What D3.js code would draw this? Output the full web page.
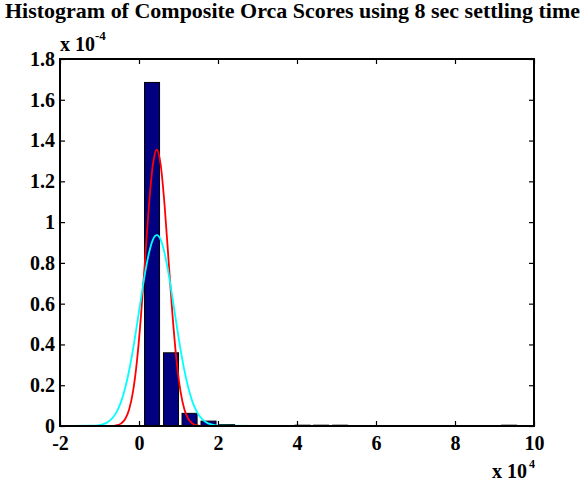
<!DOCTYPE html>
<html>
<head>
<meta charset="utf-8">
<script src="https://cdn.jsdelivr.net/npm/d3@7"></script>
<style>
  body { margin: 0; background: #fff; }
  svg text { font-family: "Liberation Serif", "Times New Roman", serif; font-weight: bold; fill: #000; }
</style>
</head>
<body>
<div id="chart"></div>
<script>
"use strict";

/*
    histogram of composite orca scores + two fitted curves
    x values in units of 1e4, y values in units of 1e-4
*/

const binCenters = [0.33, 0.81, 1.28, 1.76, 2.23, 2.71, 3.19, 3.66, 4.14, 4.61,
                    5.09, 5.57, 6.04, 6.52, 6.99, 7.47, 7.95, 8.42, 8.90, 9.37]
const binValues  = [1.685, 0.359, 0.062, 0.024, 0.007, 0, 0, 0, 0.004, 0.004,
                    0.004, 0, 0, 0, 0, 0, 0, 0, 0, 0.004]
const binWidth = 0.476

// red fit
const redX = [-2, -0.65, -0.55, -0.45, -0.35, -0.25, -0.15, -0.05, 0.05, 0.15, 0.25, 0.35, 0.45,
              0.55, 0.65, 0.75, 0.85, 0.95, 1.05, 1.15, 1.25, 1.35, 1.45, 1.55, 4.1]
const redY = [0, 0.001, 0.004, 0.013, 0.034, 0.081, 0.171, 0.322, 0.540, 0.808, 1.077, 1.279, 1.355,
              1.279, 1.077, 0.808, 0.540, 0.322, 0.171, 0.081, 0.034, 0.013, 0.004, 0.001, 0]

// cyan fit
const cyanX = [-2, -1.15, -1.05, -0.95, -0.85, -0.75, -0.65, -0.55, -0.45, -0.35, -0.25, -0.15, -0.05,
               0.05, 0.15, 0.25, 0.35, 0.45, 0.55, 0.65, 0.75, 0.85, 0.95, 1.05, 1.15, 1.25, 1.35,
               1.45, 1.55, 1.65, 1.75, 1.85, 1.95, 2.05, 4.1]
const cyanY = [0, 0.0015, 0.003, 0.007, 0.013, 0.025, 0.044, 0.075, 0.121, 0.186, 0.272, 0.377, 0.498,
               0.625, 0.746, 0.846, 0.913, 0.936, 0.913, 0.846, 0.746, 0.625, 0.498, 0.377, 0.272,
               0.186, 0.121, 0.075, 0.044, 0.025, 0.013, 0.007, 0.003, 0.0015, 0]

const xTicks = [-2, 0, 2, 4, 6, 8, 10]
const yTicks = [0, 0.2, 0.4, 0.6, 0.8, 1, 1.2, 1.4, 1.6, 1.8]

const titleText = "Histogram of Composite Orca Scores using 8 sec settling time"

const W = 587, H = 485
const padL = 60, padR = 534, padT = 59, padB = 426
const tickLen = 5
const labelSize = "20px"

const svg = d3.select("#chart").append("svg")
    .attr("width", W)
    .attr("height", H)

const x = d3.scaleLinear().domain([-2, 10]).range([padL, padR])
const y = d3.scaleLinear().domain([0, 1.8]).range([padB, padT])

// --- title ---
svg.append("text")
    .attr("x", 5)
    .attr("y", 18)
    .attr("textLength", 575)
    .attr("lengthAdjust", "spacingAndGlyphs")
    .style("font-size", "21px")
    .text(titleText)

// --- bars ---
const plot = svg.append("g")
plot.selectAll("rect.bar")
    .data(binCenters.map((c, i) => ({c: c, v: binValues[i]})))
    .enter().append("rect")
    .attr("class", "bar")
    .attr("x", d => x(d.c - binWidth * 0.4))
    .attr("width", d => x(d.c + binWidth * 0.4) - x(d.c - binWidth * 0.4))
    .attr("y", d => y(d.v))
    .attr("height", d => y(0) - y(d.v))
    .style("fill", "#000080")
    .style("stroke", "#000")
    .style("stroke-width", 1)

// --- curves ---
const line = d3.line()
    .x(d => x(d[0]))
    .y(d => y(d[1]))
    .curve(d3.curveMonotoneX)

plot.append("path")
    .datum(d3.zip(redX, redY))
    .attr("d", line)
    .style("fill", "none")
    .style("stroke", "#ff0000")
    .style("stroke-width", 1.8)

plot.append("path")
    .datum(d3.zip(cyanX, cyanY))
    .attr("d", line)
    .style("fill", "none")
    .style("stroke", "#00ffff")
    .style("stroke-width", 1.8)

// --- axes (matlab style box, inward ticks) ---
const xAxisB = d3.axisBottom(x).tickValues(xTicks).tickSizeInner(-tickLen).tickSizeOuter(0).tickPadding(10)
    .tickFormat(d => String(d))
const xAxisT = d3.axisTop(x).tickValues(xTicks).tickSizeInner(-tickLen).tickSizeOuter(0).tickFormat("")
const yAxisL = d3.axisLeft(y).tickValues(yTicks).tickSizeInner(-tickLen).tickSizeOuter(0).tickPadding(5)
    .tickFormat(d => String(+d.toFixed(1)))
const yAxisR = d3.axisRight(y).tickValues(yTicks).tickSizeInner(-tickLen).tickSizeOuter(0).tickFormat("")

function styleAxis (g) {
    g.select(".domain").remove()
    g.selectAll("line").style("stroke", "#000").style("stroke-width", 1.2)
    g.selectAll("text").style("font-size", labelSize).attr("font-family", null).attr("fill", "#000")
}

svg.append("g").attr("transform", `translate(0,${padB})`).call(xAxisB).call(styleAxis)
svg.append("g").attr("transform", `translate(0,${padT})`).call(xAxisT).call(styleAxis)
svg.append("g").attr("transform", `translate(${padL},0)`).call(yAxisL).call(styleAxis)
svg.append("g").attr("transform", `translate(${padR},0)`).call(yAxisR).call(styleAxis)

svg.append("rect")
    .attr("x", padL)
    .attr("y", padT)
    .attr("width", padR - padL)
    .attr("height", padB - padT)
    .style("fill", "none")
    .style("stroke", "#000")
    .style("stroke-width", 2)

// --- exponent labels ---
const expTop = svg.append("text")
    .attr("x", padL)
    .attr("y", 51)
    .style("font-size", labelSize)
expTop.append("tspan").text("x 10")
expTop.append("tspan").attr("dy", -11).style("font-size", "13px").text("-4")

const expBot = svg.append("text")
    .attr("x", 492)
    .attr("y", 478)
    .style("font-size", labelSize)
expBot.append("tspan").text("x 10")
expBot.append("tspan").attr("dx", 2).attr("dy", -10).style("font-size", "12px").text("4")
</script>
</body>
</html>
